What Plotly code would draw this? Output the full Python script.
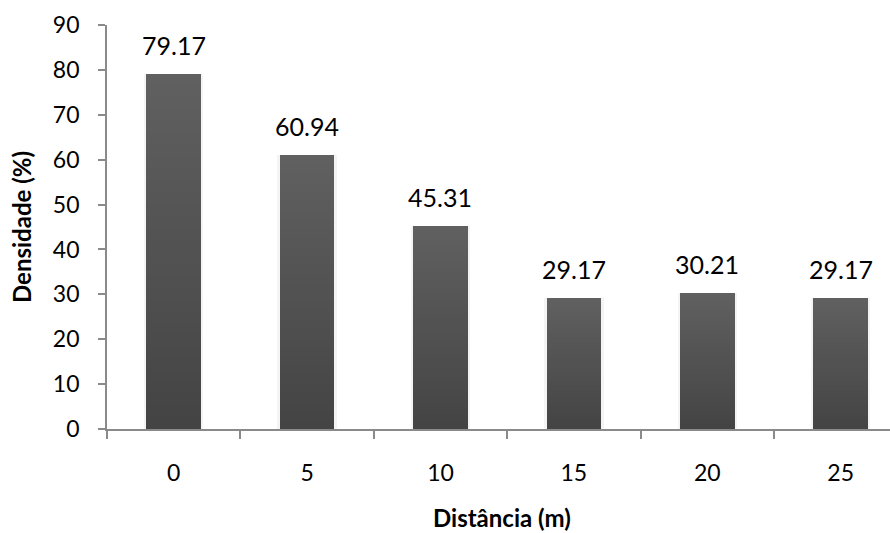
import plotly.graph_objects as go

# Distance classes (m) and density values (%)
distancias = ["0", "5", "10", "15", "20", "25"]
densidade = [79.17, 60.94, 45.31, 29.17, 30.21, 29.17]
y_ticks = [0, 10, 20, 30, 40, 50, 60, 70, 80, 90]

FONT = "Lato"
BAR_W = 0.41
W, H = 890, 533
ML, MR, MT, MB = 107, 0, 25, 104
AXIS_GREY = "#8a8a8a"

fig = go.Figure()

# soft shadow behind each bar
fig.add_trace(go.Bar(
    x=distancias, y=densidade, width=BAR_W + 0.035,
    marker=dict(color="rgba(0,0,0,0.045)", line=dict(width=0)),
    hoverinfo="skip", showlegend=False,
))

# vertical gradient: overlay layers, lighter at the top, darker at the bottom
N = 30
top_rgb = (96, 96, 96)
bot_rgb = (68, 68, 68)
for i in range(N):
    t = i / (N - 1)
    c = tuple(round(top_rgb[k] + (bot_rgb[k] - top_rgb[k]) * t) for k in range(3))
    frac = 1 - i / N
    fig.add_trace(go.Bar(
        x=distancias, y=[v * frac for v in densidade], width=BAR_W,
        marker=dict(color="rgb(%d,%d,%d)" % c, line=dict(width=0)),
        hoverinfo="skip", showlegend=False,
    ))

# value labels above the bars (category axis: annotations use the category index)
for idx, v in enumerate(densidade):
    fig.add_annotation(
        x=idx, y=v, xref="x", yref="y", text=f"{v:.2f}", showarrow=False,
        yanchor="bottom", yshift=12,
        font=dict(family=FONT, size=25, color="#000000"),
    )

# axis titles
fig.add_annotation(
    text="<b>Distância (m)</b>", xref="paper", yref="paper",
    x=(502 - ML) / (W - ML - MR), y=0, yanchor="middle", xanchor="center",
    yshift=-88, showarrow=False,
    font=dict(family=FONT, size=24, color="#000000"),
)
fig.add_annotation(
    text="<b>Densidade (%)</b>", xref="paper", yref="paper",
    x=0, y=0.5, xanchor="center", yanchor="middle", textangle=-90,
    xshift=21 - ML, showarrow=False,
    font=dict(family=FONT, size=24, color="#000000"),
)

fig.update_layout(
    width=W, height=H,
    margin=dict(l=ML, r=MR, t=MT, b=MB),
    paper_bgcolor="white", plot_bgcolor="white",
    barmode="overlay", bargap=0,
    showlegend=False,
    font=dict(family=FONT, size=23, color="#000000"),
)

fig.update_xaxes(
    type="category", range=[-0.5, 5.37],
    showline=True, linecolor=AXIS_GREY, linewidth=1.8,
    ticks="outside", tickson="boundaries", ticklen=8, tickcolor=AXIS_GREY, tickwidth=1.8,
    ticklabelstandoff=22,
    tickfont=dict(family=FONT, size=23, color="#000000"),
    showgrid=False, zeroline=False,
)
fig.update_yaxes(
    range=[0, 90], tickvals=y_ticks,
    showline=True, linecolor=AXIS_GREY, linewidth=1.8,
    ticks="outside", ticklen=7, tickcolor=AXIS_GREY, tickwidth=1.8,
    ticklabelstandoff=14,
    tickfont=dict(family=FONT, size=23, color="#000000"),
    showgrid=False, zeroline=False,
)

fig.write_html("out.html")
